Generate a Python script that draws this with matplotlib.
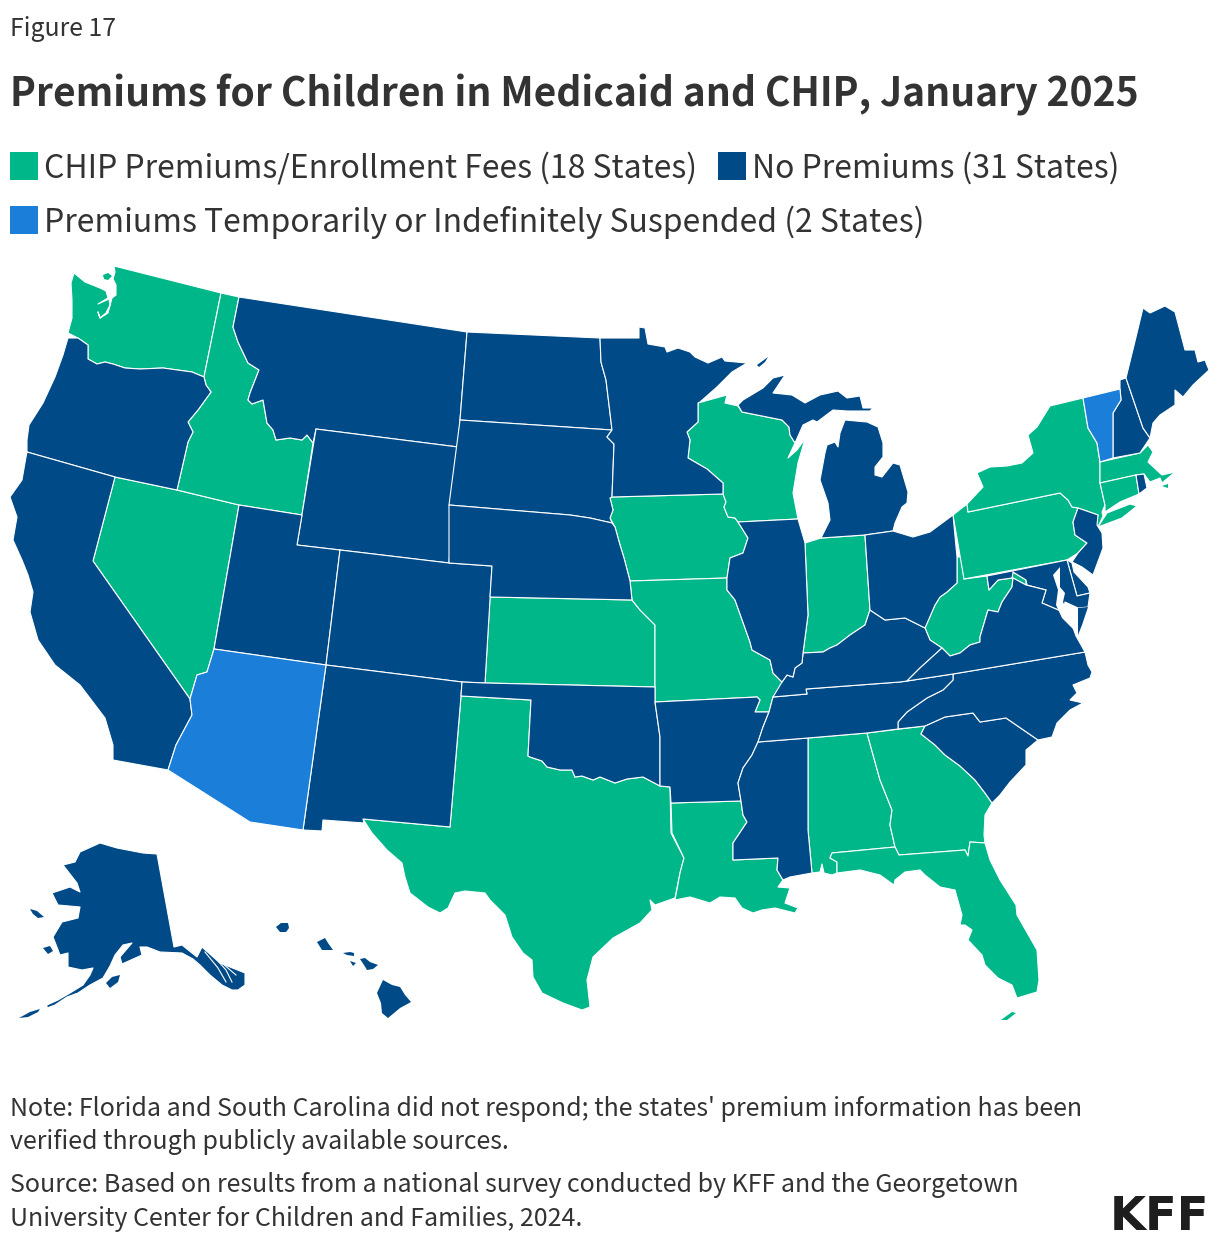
import matplotlib
matplotlib.use('Agg')
import matplotlib.pyplot as plt
from matplotlib.patches import Polygon, Rectangle

plt.rcParams['font.family'] = ['Noto Sans CJK SC', 'DejaVu Sans']

# state outlines (pixel positions on the map)
WA = [(114,266),(221,293),(204,377),(192,372),(163,368),(140,369),(125,368),(113,364),(105,362),(97,364),(88,359),(88,345),(78,338),(68,333),(72,318),(72,300),(71,283),(74,273),(85,282),(100,288),(106,291),(108,298),(98,304),(109,299),(110,305),(106,313),(100,318),(98,312),(100,318),(108,313),(112,298),(116,295),(116,285),(113,279),(115,272)]
WA_ISLAND = [(103,275),(108,273),(112,276),(108,280),(104,279)]
OR = [(68,338),(78,338),(88,345),(88,359),(97,364),(105,362),(113,364),(125,368),(140,369),(163,368),(192,372),(204,377),(206,385),(211,392),(198,410),(188,422),(193,432),(188,442),(177,490),(115,477),(27,452),(27,440),(29,425),(43,403),(55,377),(63,355)]
CA = [(27,452),(115,477),(93,561),(190,699),(192,715),(176,745),(168,770),(113,760),(113,745),(105,718),(80,685),(55,665),(38,640),(30,612),(33,592),(28,575),(22,560),(13,540),(17,517),(10,497),(22,480),(26,457)]
NV = [(115,477),(177,490),(239,505),(214,649),(207,672),(197,675),(190,699),(93,561)]
ID = [(221,293),(239,297),(233,327),(238,342),(248,363),(259,370),(250,393),(248,400),(252,404),(263,400),(267,423),(273,430),(276,440),(290,438),(302,440),(307,435),(313,443),(302,515),(239,505),(177,490),(188,442),(193,432),(188,422),(198,410),(211,392),(206,385),(204,377)]
MT = [(239,297),(467,332),(460,420),(458,447),(316,429),(313,443),(307,435),(302,440),(290,438),(276,440),(273,430),(267,423),(263,400),(252,404),(248,400),(250,393),(259,370),(248,363),(238,342),(233,327)]
WY = [(316,429),(458,447),(449,563),(340,550),(297,545)]
UT = [(239,505),(302,515),(297,545),(340,550),(326,665),(214,649)]
CO = [(340,550),(449,563),(492,566),(485,683),(462,682),(326,665)]
AZ = [(214,649),(326,665),(303,830),(250,822),(168,770),(176,745),(192,715),(190,699),(197,675),(207,672)]
NM = [(326,665),(462,682),(461,696),(450,827),(363,819),(364,823),(323,820),(322,831),(303,830)]
ND = [(467,332),(600,338),(601,362),(606,380),(610,413),(612,430),(460,420)]
SD = [(460,420),(612,430),(607,437),(614,444),(612,497),(610,498),(613,510),(610,518),(612,523),(590,518),(570,515),(449,505)]
NE = [(449,505),(570,515),(590,518),(612,523),(615,527),(620,545),(624,558),(630,581),(632,600),(490,597),(492,566),(449,563)]
KS = [(490,597),(632,600),(640,610),(655,625),(655,687),(485,683)]
OK = [(462,682),(485,683),(655,687),(655,702),(660,737),(660,786),(643,777),(627,779),(615,783),(600,777),(593,780),(582,776),(575,777),(572,770),(560,770),(547,767),(542,761),(530,757),(528,756),(531,700),(461,696)]
TX = [(461,696),(531,700),(528,756),(530,757),(542,761),(547,767),(560,770),(572,770),(575,777),(582,776),(593,780),(600,777),(615,783),(627,779),(643,777),(660,786),(670,787),(671,833),(684,858),(680,873),(675,898),(655,905),(650,900),(652,910),(640,923),(613,938),(593,957),(587,980),(590,1007),(582,1010),(563,1003),(542,993),(533,977),(532,960),(523,953),(512,937),(505,915),(490,900),(485,893),(465,891),(455,893),(448,908),(440,913),(428,907),(410,893),(405,877),(402,863),(387,850),(372,833),(363,819),(450,827)]
MN = [(600,338),(639,338),(639,327),(645,328),(648,344),(665,347),(667,352),(678,348),(690,352),(695,357),(708,363),(722,357),(725,361),(747,363),(732,372),(717,387),(700,402),(698,403),(698,422),(687,432),(690,440),(688,458),(707,469),(723,483),(723,494),(612,497),(614,444),(607,437),(612,430),(610,413),(606,380),(601,362)]
ISLE_ROYALE = [(757,365),(768,357),(765,362),(759,367)]
WI = [(698,403),(727,395),(725,403),(738,406),(742,412),(782,420),(789,427),(790,435),(795,443),(788,458),(797,450),(805,439),(798,463),(793,493),(798,519),(738,522),(735,518),(728,517),(724,507),(726,502),(723,494),(723,483),(707,469),(688,458),(690,440),(687,432),(698,422)]
MI_LOWER = [(821,538),(830,520),(828,503),(820,480),(825,453),(827,445),(835,442),(838,447),(840,433),(845,420),(867,422),(878,427),(883,443),(883,457),(875,467),(875,475),(882,477),(893,463),(900,465),(908,492),(907,503),(902,507),(895,523),(893,531),(865,535)]
MI_UPPER = [(738,405),(743,400),(763,388),(773,378),(785,375),(773,393),(792,395),(805,403),(820,395),(838,391),(847,398),(860,396),(863,408),(873,408),(870,411),(847,411),(833,410),(817,422),(813,420),(803,425),(795,443),(790,435),(789,427),(782,420),(742,412)]
IA = [(612,497),(723,494),(726,502),(724,507),(728,517),(735,518),(738,522),(748,538),(743,553),(730,558),(727,578),(630,581),(624,558),(620,545),(615,527),(610,518),(613,510),(610,498)]
MO = [(630,581),(727,578),(727,590),(735,600),(750,642),(752,650),(770,660),(773,673),(782,682),(780,692),(773,697),(769,712),(755,712),(760,700),(757,697),(655,702),(655,625),(640,610),(632,600)]
AR = [(655,702),(757,697),(760,700),(755,712),(769,712),(763,727),(758,742),(752,755),(743,768),(738,783),(741,801),(671,803),(670,787),(660,786),(660,737)]
LA = [(671,803),(741,801),(743,815),(747,822),(733,843),(733,860),(778,858),(777,870),(783,880),(778,887),(790,888),(785,903),(798,908),(795,913),(775,908),(762,910),(753,913),(742,908),(735,898),(720,897),(710,903),(690,897),(675,900),(680,873),(684,858),(672,833)]
MS = [(758,742),(808,738),(808,830),(812,873),(790,877),(783,880),(777,870),(778,858),(733,860),(733,843),(747,822),(743,815),(741,801),(738,783),(743,768),(752,755)]
AL = [(808,738),(867,733),(880,780),(892,810),(890,825),(895,847),(832,853),(830,858),(837,862),(837,873),(832,875),(824,873),(822,864),(820,872),(812,873),(808,830)]
GA = [(867,733),(925,726),(921,734),(935,745),(945,755),(960,766),(975,780),(985,793),(992,803),(985,815),(984,835),(985,843),(970,842),(968,856),(965,850),(899,855),(895,847),(890,825),(892,810),(880,780)]
FL = [(832,853),(895,847),(899,855),(965,850),(968,856),(970,842),(985,843),(990,860),(1000,880),(1016,905),(1017,915),(1037,950),(1039,980),(1037,992),(1017,998),(1012,985),(998,978),(985,965),(982,955),(968,940),(972,930),(965,925),(960,925),(962,915),(955,890),(940,887),(925,875),(920,870),(905,872),(895,880),(894,885),(880,875),(860,870),(837,873),(837,862),(830,858)]
FL_KEYS = [(1001,1020),(1012,1012),(1016,1013),(1007,1020)]
SC = [(921,734),(925,726),(945,717),(973,713),(980,722),(1006,718),(1038,740),(1026,750),(1026,765),(1010,782),(1000,795),(992,803),(985,793),(975,780),(960,766),(945,755),(935,745)]
NC = [(953,674),(1085,652),(1088,665),(1092,672),(1090,678),(1073,685),(1077,693),(1070,700),(1083,703),(1070,710),(1057,723),(1052,737),(1038,740),(1006,718),(980,722),(973,713),(945,717),(925,726),(898,729),(898,722),(907,712),(927,698),(943,690),(953,680)]
TN = [(773,697),(807,694),(806,689),(900,682),(907,681),(953,674),(953,680),(943,690),(927,698),(907,712),(898,722),(898,729),(867,733),(808,738),(758,742),(763,727),(769,712)]
KY = [(782,682),(773,697),(807,694),(806,689),(900,682),(907,681),(920,668),(942,648),(930,640),(925,628),(905,618),(885,620),(870,610),(865,625),(850,635),(837,645),(830,648),(823,652),(803,653),(802,663),(795,668),(793,677),(787,675)]
IL = [(738,522),(798,519),(805,543),(808,615),(803,653),(802,663),(795,668),(793,677),(787,675),(782,682),(773,673),(770,660),(752,650),(750,642),(735,600),(727,590),(727,578),(730,558),(743,553),(748,538)]
IN = [(805,543),(821,538),(865,535),(870,610),(865,625),(850,635),(837,645),(830,648),(823,652),(803,653),(808,615)]
OH = [(865,535),(893,531),(913,537),(930,532),(953,515),(957,557),(957,583),(947,592),(940,597),(935,605),(925,628),(905,618),(885,620),(870,610)]
PA = [(953,515),(967,504),(968,512),(1060,493),(1068,500),(1072,507),(1078,508),(1073,522),(1075,535),(1087,543),(1078,553),(1067,560),(964,579)]
NY = [(967,504),(983,487),(977,473),(990,467),(1007,466),(1022,463),(1033,453),(1028,435),(1037,427),(1050,406),(1083,398),(1088,428),(1097,443),(1100,462),(1100,483),(1105,505),(1102,512),(1103,516),(1098,527),(1095,527),(1098,515),(1078,508),(1072,507),(1068,500),(1060,493),(968,512)]
LONG_ISLAND = [(1098,527),(1107,513),(1130,504),(1137,506),(1122,518)]
VT = [(1083,398),(1120,389),(1121,400),(1113,413),(1113,458),(1100,462),(1097,443),(1088,428)]
NH = [(1120,389),(1120,380),(1126,378),(1143,428),(1150,438),(1140,453),(1113,458),(1113,413),(1121,400)]
ME = [(1126,378),(1137,333),(1143,308),(1150,313),(1165,306),(1175,312),(1185,350),(1195,350),(1198,362),(1205,360),(1209,370),(1193,385),(1183,397),(1175,390),(1175,405),(1160,415),(1153,423),(1150,438),(1143,428)]
MA = [(1100,462),(1140,453),(1148,445),(1153,452),(1148,462),(1162,475),(1175,472),(1162,483),(1160,478),(1150,482),(1144,474),(1136,475),(1100,483)]
MA_ISLAND = [(1162,486),(1168,484),(1168,488)]
CT = [(1100,483),(1136,475),(1139,494),(1120,502),(1105,512),(1105,505)]
RI = [(1136,475),(1144,474),(1147,488),(1139,494)]
NJ = [(1078,508),(1098,515),(1097,525),(1102,533),(1103,548),(1093,575),(1082,567),(1072,562),(1078,553),(1087,543),(1075,535),(1073,522)]
DE = [(1067,560),(1072,563),(1074,572),(1088,587),(1090,593),(1077,596)]
MD = [(987,576),(1067,560),(1077,596),(1090,593),(1088,607),(1078,608),(1065,602),(1063,612),(1042,603),(1046,590),(1027,585),(1026,580),(1013,572),(1012,578),(998,580),(989,590)]
WV = [(957,557),(961,557),(964,579),(987,576),(989,590),(998,580),(1012,578),(1013,572),(1026,580),(1026,585),(1013,578),(1012,587),(1002,602),(998,612),(988,610),(980,637),(980,642),(970,645),(960,653),(950,656),(942,648),(930,640),(925,628),(935,605),(940,597),(947,592),(957,583)]
VA = [(907,681),(920,668),(942,648),(950,656),(960,653),(970,645),(980,642),(980,637),(988,610),(998,612),(1002,602),(1012,587),(1013,578),(1026,585),(1046,590),(1042,603),(1063,612),(1072,625),(1076,636),(1085,652),(953,674)]
VA_SHORE = [(1078,608),(1088,607),(1082,625),(1078,635)]
AK = [(157,854),(174,947),(182,945),(197,957),(202,947),(220,963),(245,973),(245,985),(238,990),(232,990),(222,985),(210,975),(200,965),(193,959),(182,953),(160,952),(147,947),(140,947),(142,955),(122,964),(120,957),(132,943),(123,945),(115,955),(110,966),(103,978),(90,985),(78,993),(67,997),(55,1005),(47,1008),(47,1005),(58,1000),(70,993),(83,985),(90,975),(93,968),(82,970),(68,967),(68,953),(60,955),(53,937),(62,922),(78,918),(80,907),(58,905),(52,893),(70,887),(80,892),(77,883),(63,865),(75,862),(80,852),(100,843),(117,848),(143,853)]
AK_ALEUTIANS = [(19,1018),(30,1012),(40,1009),(38,1012),(28,1017)]
AK_KODIAK = [(106,983),(112,977),(120,975),(118,982),(110,988)]
AK_LAWRENCE = [(30,909),(37,911),(44,917),(38,918),(33,914)]
AK_NUNIVAK = [(43,948),(50,946),(53,951),(48,954)]
HI_KAUAI = [(276,927),(281,923),(288,923),(289,928),(286,932),(280,932)]
HI_OAHU = [(317,942),(325,938),(328,943),(333,950),(322,950)]
HI_MOLOKAI = [(343,953),(350,952),(354,953),(354,956),(347,955)]
HI_LANAI = [(350,961),(356,963),(353,966)]
HI_MAUI = [(360,959),(365,958),(370,962),(378,965),(373,969),(367,970),(364,965)]
HI_BIG = [(383,980),(392,985),(400,987),(405,995),(411,1002),(400,1008),(388,1018),(382,1013),(381,1003),(377,993)]
# water cut into the coast
CHESAPEAKE = [(1053,575),(1060,567),(1060,587),(1065,593),(1063,602),(1068,612),(1077,620),(1078,635),(1074,630),(1062,618),(1056,605),(1058,590)]
DELAWARE_BAY = [(1072,562),(1082,567),(1092,576),(1088,582),(1078,572)]
AK_CHANNELS = [[(205,952),(218,968),(226,982)], [(210,952),(226,970),(232,982)], [(216,958),(236,975)]]

chip_states = [WA, NV, ID, KS, TX, IA, MO, WI, LA, AL, GA, FL, IN, WV, PA, NY, LONG_ISLAND, MA, CT]
chip_islands = [WA_ISLAND, FL_KEYS, MA_ISLAND]
no_premium_states = [OR, CA, MT, WY, UT, CO, NM, ND, SD, NE, OK, MN, MI_LOWER, MI_UPPER, AR, MS, SC, NC, TN, KY, IL, OH, NH, ME, RI, NJ, DE, MD, VA, AK]
no_premium_islands = [ISLE_ROYALE, VA_SHORE, AK_ALEUTIANS, AK_KODIAK, AK_LAWRENCE, AK_NUNIVAK, HI_KAUAI, HI_OAHU, HI_MOLOKAI, HI_LANAI, HI_MAUI, HI_BIG]
suspended_states = [AZ, VT]
water = [CHESAPEAKE, DELAWARE_BAY]

GREEN = '#00B78A'
NAVY = '#004A87'
BLUE = '#1B7FD9'
TEXT = '#333333'

legend_labels = ['CHIP Premiums/Enrollment Fees (18 States)', 'No Premiums (31 States)',
                 'Premiums Temporarily or Indefinitely Suspended (2 States)']
note_lines = ["Note: Florida and South Carolina did not respond; the states' premium information has been",
              'verified through publicly available sources.']
source_lines = ['Source: Based on results from a national survey conducted by KFF and the Georgetown',
                'University Center for Children and Families, 2024.']

fig = plt.figure(figsize=(12.2, 12.44), dpi=100)
ax = fig.add_axes([0, 0, 1, 1])
ax.set_xlim(0, 1220)
ax.set_ylim(1244, 0)
ax.axis('off')

for group, color in [(chip_states, GREEN), (no_premium_states, NAVY), (suspended_states, BLUE)]:
    for outline in group:
        ax.add_patch(Polygon(outline, closed=True, facecolor=color, edgecolor='white', linewidth=0.8, joinstyle='round'))
for group, color in [(chip_islands, GREEN), (no_premium_islands, NAVY)]:
    for outline in group:
        ax.add_patch(Polygon(outline, closed=True, facecolor=color, edgecolor='none'))
for outline in water:
    ax.add_patch(Polygon(outline, closed=True, facecolor='white', edgecolor='none'))
for channel in AK_CHANNELS:
    ax.plot(*zip(*channel), color='white', linewidth=0.8)

ax.text(10.5, 36, 'Figure 17', fontsize=17.9, color=TEXT, va='baseline')
ax.text(10.5, 107, 'Premiums for Children in Medicaid and CHIP, January 2025', fontsize=28.1, fontweight='bold', color=TEXT, va='baseline')

for x, y, color, label in [(10, 152, GREEN, legend_labels[0]), (718, 152, NAVY, legend_labels[1]), (10, 206, BLUE, legend_labels[2])]:
    ax.add_patch(Rectangle((x, y), 28, 28, facecolor=color, edgecolor='none'))
    ax.text(x + 34, y + 26, label, fontsize=23.03, color=TEXT, va='baseline')

for y, line in zip([1116, 1149], note_lines):
    ax.text(10.5, y, line, fontsize=18.0, color=TEXT, va='baseline')
for y, line in zip([1192, 1226], source_lines):
    ax.text(10.5, y, line, fontsize=18.0, color=TEXT, va='baseline')

ax.text(1209, 1230, 'KFF', fontsize=33.5, fontweight='bold', family='DejaVu Sans', color='#1E1E1E', ha='right', va='baseline')

fig.savefig('out.png', dpi=100)
